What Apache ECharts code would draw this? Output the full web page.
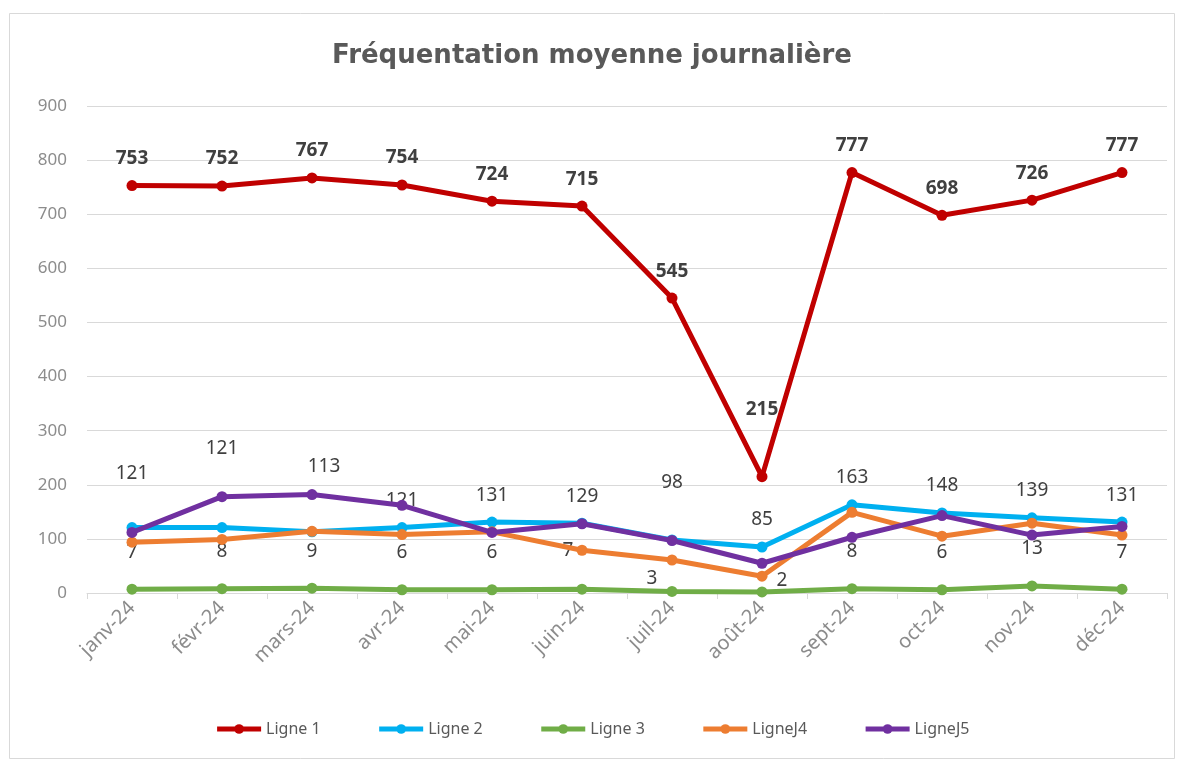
<!DOCTYPE html>
<html>
<head>
<meta charset="utf-8">
<script src="https://cdn.jsdelivr.net/npm/echarts@6/dist/echarts.min.js"></script>
<style>
  html, body { margin: 0; padding: 0; background: #fff; }
  #chart { width: 1184px; height: 764px; }
</style>
</head>
<body>
<div id="chart"></div>
<script>
// catégories (mois)
var months = ["janv-24", "févr-24", "mars-24", "avr-24", "mai-24", "juin-24",
  "juil-24", "août-24", "sept-24", "oct-24", "nov-24", "déc-24"];

var ligne1 = [753, 752, 767, 754, 724, 715, 545, 215, 777, 698, 726, 777];
var ligne2 = [121, 121, 113, 121, 131, 129, 98, 85, 163, 148, 139, 131];
var ligne3 = [7, 8, 9, 6, 6, 7, 3, 2, 8, 6, 13, 7];
var ligneJ4 = [94, 99, 114, 108, 113, 79, 61, 31, 149, 105, 129, 107];
var ligneJ5 = [112, 178, 182, 162, 112, 128, 97, 55, 103, 143, 107, 123];

var seriesNames = ["Ligne 1", "Ligne 2", "Ligne 3", "LigneJ4", "LigneJ5"];
var colors = ["#C00000", "#00B0F0", "#70AD47", "#ED7D31", "#7030A0"];

// décalages des étiquettes (déplacées à la main dans l'original)
var lift1 = [0, 0, 0, 0, 0, 0, 0, 40, 0, 0, 0, 0];
var lift2 = [27, 52, 38, 0, 0, 0, 30, 0, 0, 0, 0, 0];
var shift2 = [0, 0, 12, 0, 0, 0, 0, 0, 0, 0, 0, 0];
var lift3 = [14, 14, 14, 14, 14, 16, -10, -12, 14, 14, 14, 14];
var shift3 = [0, 0, 0, 0, 0, -14, -20, 20, 0, 0, 0, 0];

function withLabels(values, lift, shift) {
  return values.map(function (v, i) {
    return {
      value: v,
      label: { offset: [shift ? shift[i] : 0, -(lift[i] || 0)] }
    };
  });
}

var chart = echarts.init(document.getElementById("chart"), null, { renderer: "canvas" });

var baseFont = "Noto Sans";

var option = {
  backgroundColor: "#ffffff",
  animation: false,
  color: colors,
  title: {
    text: "Fréquentation moyenne journalière",
    left: "center",
    top: 38,
    textStyle: {
      fontFamily: "DejaVu Sans",
      fontSize: 26,
      fontWeight: "bold",
      color: "#595959"
    }
  },
  graphic: [{
    type: "rect",
    shape: { x: 9.5, y: 13.5, width: 1165, height: 745 },
    style: { fill: null, stroke: "#d9d9d9", lineWidth: 1 },
    silent: true,
    z: -1
  }],
  grid: {
    left: 87,
    right: 17,
    top: 106,
    bottom: 171,
    containLabel: false
  },
  legend: {
    data: seriesNames,
    bottom: 22,
    left: "center",
    itemWidth: 44,
    itemHeight: 12,
    itemGap: 56,
    lineStyle: { width: 5 },
    textStyle: {
      fontFamily: baseFont,
      fontSize: 16,
      color: "#595959"
    }
  },
  xAxis: {
    type: "category",
    data: months,
    boundaryGap: true,
    axisLine: { lineStyle: { color: "#d9d9d9", width: 1 } },
    axisTick: { show: true, length: 6, lineStyle: { color: "#d9d9d9" } },
    axisLabel: {
      rotate: 45,
      margin: 12,
      fontFamily: baseFont,
      fontSize: 20,
      color: "#8c8c8c"
    }
  },
  yAxis: {
    type: "value",
    min: 0,
    max: 900,
    interval: 100,
    axisLine: { show: false },
    axisTick: { show: false },
    axisLabel: {
      margin: 20,
      fontFamily: baseFont,
      fontSize: 17,
      color: "#8c8c8c"
    },
    splitLine: { lineStyle: { color: "#d9d9d9", width: 1 } }
  },
  series: [
    {
      name: seriesNames[0],
      type: "line",
      data: withLabels(ligne1, lift1),
      symbol: "circle",
      symbolSize: 11,
      lineStyle: { width: 5 },
      label: {
        show: true,
        position: "top",
        distance: 12,
        fontFamily: baseFont,
        fontSize: 19,
        fontWeight: "bold",
        color: "#404040"
      },
      z: 2
    },
    {
      name: seriesNames[1],
      type: "line",
      data: withLabels(ligne2, lift2, shift2),
      symbol: "circle",
      symbolSize: 11,
      lineStyle: { width: 5 },
      label: {
        show: true,
        position: "top",
        distance: 12,
        fontFamily: baseFont,
        fontSize: 19,
        color: "#404040"
      },
      z: 3
    },
    {
      name: seriesNames[2],
      type: "line",
      data: withLabels(ligne3, lift3, shift3),
      symbol: "circle",
      symbolSize: 11,
      lineStyle: { width: 5 },
      label: {
        show: true,
        position: "top",
        distance: 8,
        fontFamily: baseFont,
        fontSize: 19,
        color: "#404040"
      },
      z: 4
    },
    {
      name: seriesNames[3],
      type: "line",
      data: ligneJ4,
      symbol: "circle",
      symbolSize: 11,
      lineStyle: { width: 5 },
      z: 5
    },
    {
      name: seriesNames[4],
      type: "line",
      data: ligneJ5,
      symbol: "circle",
      symbolSize: 11,
      lineStyle: { width: 5 },
      z: 6
    }
  ]
};

chart.setOption(option);
</script>
</body>
</html>
